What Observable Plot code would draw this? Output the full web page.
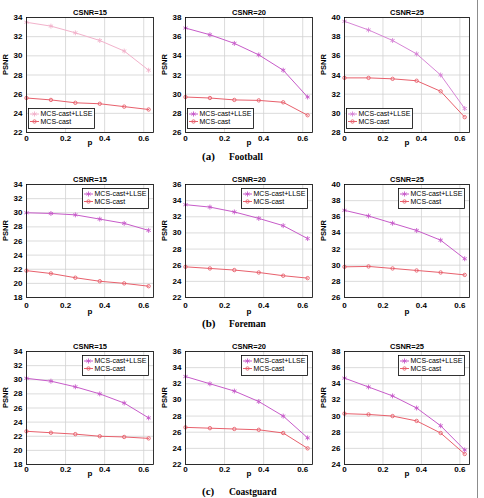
<!DOCTYPE html>
<html>
<head>
<meta charset="utf-8">
<script src="https://cdn.jsdelivr.net/npm/d3@7"></script>
<script src="https://cdn.jsdelivr.net/npm/@observablehq/plot@0.6"></script>
<style>
  body { margin: 0; background: #fff; }
  #chart { position: relative; width: 484px; height: 498px; overflow: hidden; background: #fff;
           font-family: "Liberation Sans", Arial, sans-serif; }
  .panel, .legend { position: absolute; }
  .caption { position: absolute; font-family: "Liberation Serif", "Times New Roman", serif;
             font-weight: bold; color: #000; white-space: nowrap; line-height: 1; }
  .edge { position: absolute; left: 477px; top: 0; width: 1px; height: 498px; background: #8c8c8c; }
</style>
</head>
<body>
<div id="chart"></div>
<script>
// Loss ratio p on the x axis and its tick labels
const pRatio = [0, 0.125, 0.25, 0.375, 0.5, 0.625];
const pTicks = [0, 0.2, 0.4, 0.6];

const csnrLevels = [15, 20, 25];
const videos = ["Football", "Foreman", "Coastguard"];
const captionTags = ["(a)", "(b)", "(c)"];
const seriesNames = ["MCS-cast+LLSE", "MCS-cast"];

// PSNR (dB) per sequence and channel SNR
const footballLLSE15 = [33.5, 33.1, 32.4, 31.6, 30.5, 28.5];
const footballCast15 = [25.6, 25.4, 25.1, 25.0, 24.7, 24.4];
const footballLLSE20 = [36.9, 36.2, 35.3, 34.1, 32.5, 29.7];
const footballCast20 = [29.7, 29.6, 29.4, 29.35, 29.15, 27.8];
const footballLLSE25 = [39.6, 38.7, 37.6, 36.2, 34.0, 30.5];
const footballCast25 = [33.7, 33.7, 33.6, 33.4, 32.3, 29.6];

const foremanLLSE15 = [30.0, 29.9, 29.7, 29.1, 28.5, 27.5];
const foremanCast15 = [21.8, 21.4, 20.8, 20.3, 20.0, 19.6];
const foremanLLSE20 = [33.5, 33.2, 32.6, 31.8, 30.9, 29.3];
const foremanCast20 = [25.8, 25.6, 25.4, 25.1, 24.7, 24.4];
const foremanLLSE25 = [36.8, 36.1, 35.2, 34.3, 33.1, 30.8];
const foremanCast25 = [29.8, 29.85, 29.6, 29.35, 29.1, 28.8];

const coastguardLLSE15 = [30.2, 29.8, 29.0, 28.0, 26.7, 24.6];
const coastguardCast15 = [22.7, 22.5, 22.3, 22.0, 21.9, 21.7];
const coastguardLLSE20 = [32.9, 32.0, 31.1, 29.8, 28.0, 25.3];
const coastguardCast20 = [26.6, 26.5, 26.4, 26.3, 25.9, 24.0];
const coastguardLLSE25 = [34.7, 33.6, 32.5, 31.0, 28.8, 25.8];
const coastguardCast25 = [30.3, 30.2, 30.0, 29.4, 27.9, 25.3];

// PSNR tick labels of each panel
const footballTicks15 = [22, 24, 26, 28, 30, 32, 34];
const footballTicks20 = [26, 28, 30, 32, 34, 36, 38];
const footballTicks25 = [28, 30, 32, 34, 36, 38, 40];
const foremanTicks15 = [18, 20, 22, 24, 26, 28, 30, 32, 34];
const foremanTicks20 = [22, 24, 26, 28, 30, 32, 34, 36];
const foremanTicks25 = [26, 28, 30, 32, 34, 36, 38, 40];
const coastguardTicks15 = [18, 20, 22, 24, 26, 28, 30, 32, 34];
const coastguardTicks20 = [22, 24, 26, 28, 30, 32, 34, 36];
const coastguardTicks25 = [24, 26, 28, 30, 32, 34, 36, 38];

const llseSets = [
  [footballLLSE15, footballLLSE20, footballLLSE25],
  [foremanLLSE15, foremanLLSE20, foremanLLSE25],
  [coastguardLLSE15, coastguardLLSE20, coastguardLLSE25]
];
const castSets = [
  [footballCast15, footballCast20, footballCast25],
  [foremanCast15, foremanCast20, foremanCast25],
  [coastguardCast15, coastguardCast20, coastguardCast25]
];
const tickSets = [
  [footballTicks15, footballTicks20, footballTicks25],
  [foremanTicks15, foremanTicks20, foremanTicks25],
  [coastguardTicks15, coastguardTicks20, coastguardTicks25]
];

// Layout of the 3x3 grid (plot-area frames, in page pixels)
const colLeft = [26, 185, 344];
const colWidth = [127, 127, 125];
const rowTop = [17, 184, 351];
const rowHeight = [115, 113, 113];
const xTickPad = [3, 5, 2];
const pLabelDy = [12, 16, 11];
const captionTop = [151, 318, 486];

const castColor = "#e8606c";
const llseColors = [
  ["#f2b2cb", "#c75bc9", "#d785d6"],
  ["#c75bc9", "#c75bc9", "#c75bc9"],
  ["#c75bc9", "#c75bc9", "#c75bc9"]
];

const FONT = "Liberation Sans, Arial, Helvetica, sans-serif";
const chart = document.getElementById("chart");
const SVG_W = 160, SVG_H = 160, ML = 26, MT = 17;

function drawPanel(r, c) {
  const yTicks = tickSets[r][c];
  const llseColor = llseColors[r][c];
  const llse = pRatio.map((p, i) => ({p, psnr: llseSets[r][c][i]}));
  const cast = pRatio.map((p, i) => ({p, psnr: castSets[r][c][i]}));
  const pw = colWidth[c], ph = rowHeight[r];
  const grid = {stroke: "#d2d2d2", strokeOpacity: 1, strokeWidth: 0.8};
  const label = {fontSize: 8, fontWeight: "bold", fill: "#000"};

  const svg = Plot.plot({
    width: SVG_W, height: SVG_H,
    marginLeft: ML, marginTop: MT,
    marginRight: SVG_W - ML - pw, marginBottom: SVG_H - MT - ph,
    style: {fontFamily: FONT, fontSize: "8px", background: "transparent", overflow: "visible"},
    x: {domain: [0, 0.65]},
    y: {domain: [yTicks[0], yTicks[yTicks.length - 1]]},
    marks: [
      Plot.gridX(pTicks, grid),
      Plot.gridY(yTicks, grid),
      Plot.line(cast, {x: "p", y: "psnr", stroke: castColor, strokeWidth: 1}),
      Plot.dot(cast, {x: "p", y: "psnr", r: 1.7, stroke: castColor, strokeWidth: 0.9, symbol: "circle"}),
      Plot.line(llse, {x: "p", y: "psnr", stroke: llseColor, strokeWidth: 1}),
      Plot.dot(llse, {x: "p", y: "psnr", r: 2.3, stroke: llseColor, strokeWidth: 0.9, symbol: "asterisk"}),
      Plot.frame({stroke: "#000", strokeWidth: 0.8}),
      Plot.axisX(pTicks, {tickSize: 0, tickPadding: xTickPad[r], tickFormat: d => String(d),
                          label: null, fontSize: 8, fontWeight: "bold", fill: "#000"}),
      Plot.axisY(yTicks, {tickSize: 0, tickPadding: 4, tickFormat: d => String(d),
                          label: null, fontSize: 8, fontWeight: "bold", fill: "#000"}),
      Plot.text([`CSNR=${csnrLevels[c]}`], {text: d => d, frameAnchor: "top", dy: -7.5, ...label, fontSize: 7.5}),
      Plot.text(["PSNR"], {text: d => d, frameAnchor: "left", dx: -21, rotate: -90, ...label, fontSize: 7.5}),
      Plot.text(["p"], {text: d => d, frameAnchor: "bottom", dy: pLabelDy[r], ...label})
    ]
  });
  svg.classList.add("panel");
  svg.style.left = (colLeft[c] - ML) + "px";
  svg.style.top = (rowTop[r] - MT) + "px";
  chart.appendChild(svg);

  // legend box: bottom-left on the first row, top-right elsewhere
  const lw = 66, lh = 20;
  const lx = r === 0 ? colLeft[c] + 2 : colLeft[c] + pw - 5 - lw;
  const ly = r === 0 ? rowTop[r] + ph - 4 - lh : rowTop[r] + 4;
  const leg = d3.create("svg").attr("class", "legend").attr("width", lw + 1).attr("height", lh + 1)
    .style("left", lx + "px").style("top", ly + "px");
  leg.append("rect").attr("x", 0.5).attr("y", 0.5).attr("width", lw).attr("height", lh)
    .attr("fill", "#fff").attr("stroke", "#000").attr("stroke-width", 0.8);
  const items = [
    {name: seriesNames[0], color: llseColor, symbol: d3.symbolAsterisk, size: 18},
    {name: seriesNames[1], color: castColor, symbol: d3.symbolCircle, size: 9}
  ];
  items.forEach((it, i) => {
    const cy = 6 + i * 7.5;
    leg.append("line").attr("x1", 2).attr("x2", 11).attr("y1", cy).attr("y2", cy)
      .attr("stroke", it.color).attr("stroke-width", 1);
    leg.append("path").attr("d", d3.symbol(it.symbol, it.size)()).attr("transform", `translate(6.5,${cy})`)
      .attr("fill", "none").attr("stroke", it.color).attr("stroke-width", 0.9);
    leg.append("text").attr("x", 12.5).attr("y", cy).attr("dy", "0.35em").text(it.name)
      .attr("font-family", FONT).attr("font-size", 7).attr("fill", "#000");
  });
  chart.appendChild(leg.node());
}

for (let r = 0; r < 3; r++) {
  for (let c = 0; c < 3; c++) drawPanel(r, c);
  const tag = document.createElement("div");
  tag.className = "caption";
  tag.style.left = "202px"; tag.style.top = captionTop[r] + "px"; tag.style.fontSize = "11px";
  tag.textContent = captionTags[r];
  chart.appendChild(tag);
  const name = document.createElement("div");
  name.className = "caption";
  name.style.left = "229px"; name.style.top = (captionTop[r] + 1.5) + "px"; name.style.fontSize = "9.5px";
  name.textContent = videos[r];
  chart.appendChild(name);
}

const edge = document.createElement("div");
edge.className = "edge";
chart.appendChild(edge);
</script>
</body>
</html>
